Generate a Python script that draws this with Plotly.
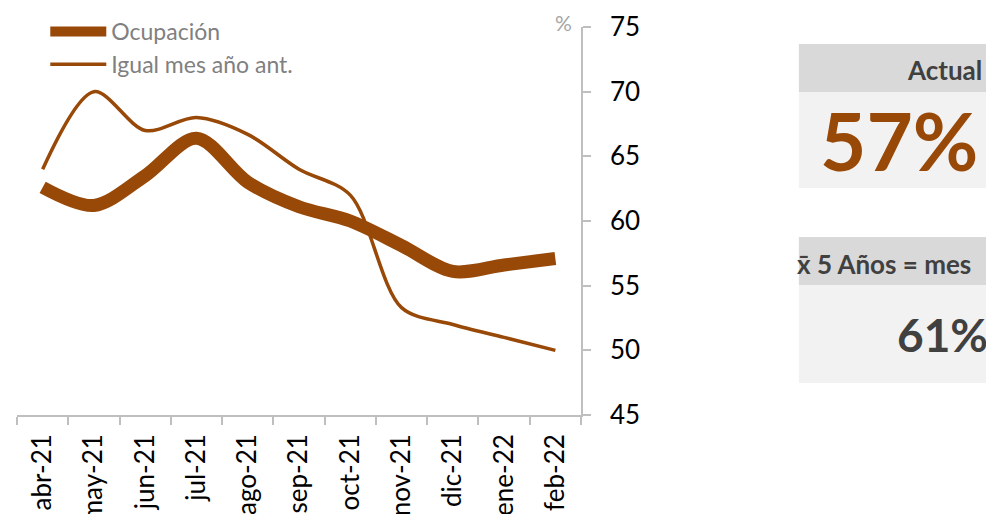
import plotly.graph_objects as go

# Monthly occupancy (%)
months = ["abr-21", "may-21", "jun-21", "jul-21", "ago-21", "sep-21",
          "oct-21", "nov-21", "dic-21", "ene-22", "feb-22"]
ocupacion = [62.6, 61.2, 63.5, 66.4, 63.0, 61.1, 60.0, 58.1, 56.1, 56.6, 57.1]
igual_mes_ant = [64.0, 70.0, 67.0, 68.0, 66.7, 64.0, 62.0, 53.3, 52.0, 51.0, 50.0]
promedio_5_anios = 61

BROWN = "#984807"
DARK = "#404040"
FONT = "Lato"

W, H = 986, 514
# plot area in window pixels
PX0, PX1, PY0, PY1 = 16.7, 581, 27, 415
L, R, T, B = PX0, W - PX1, PY0, H - PY1


def px_x(px):
    return (px - PX0) / (PX1 - PX0)


def px_y(py):
    return (PY1 - py) / (PY1 - PY0)


fig = go.Figure()

fig.add_trace(go.Scatter(
    x=months, y=ocupacion, name="Ocupación", mode="lines",
    line=dict(color=BROWN, width=13, shape="spline", smoothing=0.9),
))
fig.add_trace(go.Scatter(
    x=months, y=igual_mes_ant, name="Igual mes año ant.", mode="lines",
    line=dict(color=BROWN, width=3.5, shape="spline", smoothing=0.9),
))

fig.update_xaxes(
    type="category", range=[-0.5, len(months) - 0.5],
    showline=True, linecolor="#bfbfbf", linewidth=1.5,
    ticks="outside", tickson="boundaries", ticklen=8, tickcolor="#bfbfbf",
    tickwidth=1.5, tickangle=-90, ticklabelstandoff=7,
    tickfont=dict(family=FONT, size=26, color="#000000"),
    showgrid=False, zeroline=False, automargin=False,
)
fig.update_yaxes(
    side="right", range=[45, 75], dtick=5, showline=True, linecolor="#bfbfbf",
    linewidth=1.5, ticks="outside", ticklen=8, tickcolor="#bfbfbf", tickwidth=1.5,
    ticklabelstandoff=14,
    tickfont=dict(family=FONT, size=26, color="#000000"),
    showgrid=False, zeroline=False, automargin=False,
)


def box(y_top, y_bot, color):
    return dict(type="rect", xref="paper", yref="paper",
                x0=px_x(799), x1=px_x(1100), y0=px_y(y_bot), y1=px_y(y_top),
                fillcolor=color, line_width=0, layer="below")


# KPI boxes on the right
shapes = [
    box(44, 92, "#d9d9d9"),
    box(92, 188, "#f2f2f2"),
    box(237, 285, "#d9d9d9"),
    box(285, 383, "#f2f2f2"),
]


def label(text, x, y, size, color):
    return dict(text=text, xref="paper", yref="paper", x=px_x(x), y=px_y(y),
                xanchor="left", yanchor="middle", showarrow=False,
                font=dict(family=FONT, size=size, color=color))


annotations = [
    label("%", 553, 22, 21, "#a6a6a6"),
    label("<b>Actual</b>", 905, 70, 26, DARK),
    label(f"<b>{round(ocupacion[-1])}%</b>", 818, 140, 80, BROWN),
    label("<b>x̄ 5 Años = mes</b>", 795, 264, 26, DARK),
    label(f"<b>{promedio_5_anios}%</b>", 895, 334, 46, DARK),
]

fig.update_layout(
    width=W, height=H,
    margin=dict(l=L, r=R, t=T, b=B, autoexpand=False),
    plot_bgcolor="white", paper_bgcolor="white",
    shapes=shapes, annotations=annotations,
    legend=dict(x=px_x(45), y=px_y(10), xanchor="left", yanchor="top",
                bgcolor="rgba(0,0,0,0)", tracegroupgap=0, itemwidth=56,
                font=dict(family=FONT, size=23, color="#808080")),
)

# drop the default page margin so the figure fills the window exactly
fig.write_html("out.html",
               config={"displayModeBar": False},
               post_script="document.body.style.margin='0';"
                           "document.body.style.overflow='hidden';")
